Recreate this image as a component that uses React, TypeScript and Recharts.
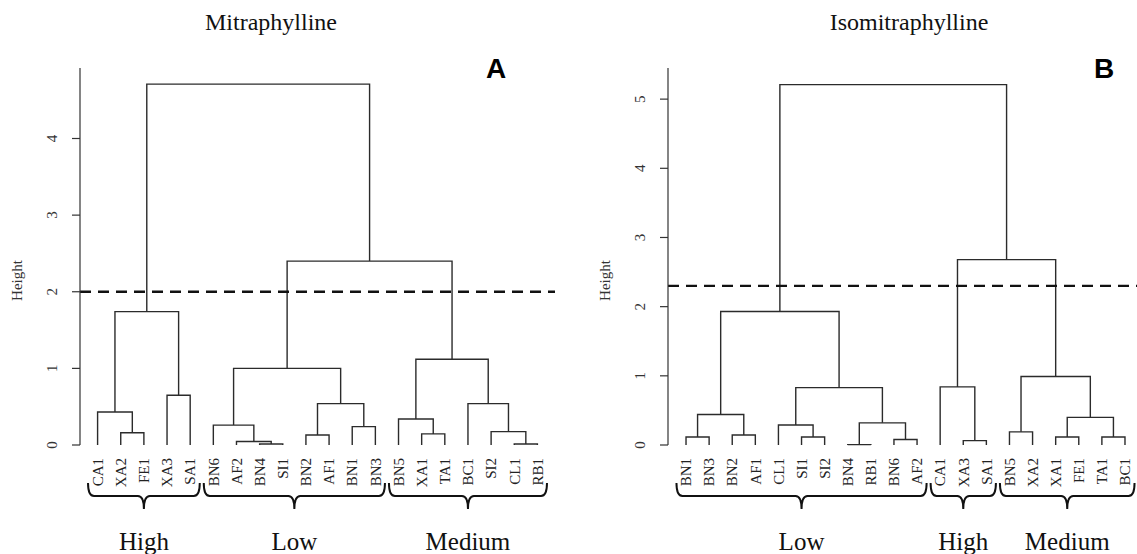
import { LineChart, Line, XAxis, YAxis, ReferenceLine, ReferenceArea } from "recharts";

const FONT = '"Liberation Serif", "Times New Roman", serif';
const INK = "#2b2b2b";

// ---- Panel A: Mitraphylline ----
const leavesA = ["CA1", "XA2", "FE1", "XA3", "SA1", "BN6", "AF2", "BN4", "SI1", "BN2", "AF1", "BN1", "BN3", "BN5", "XA1", "TA1", "BC1", "SI2", "CL1", "RB1"];
// [left, right, height]; strings are leaves, numbers point at an earlier merge row
const mergesA: [string | number, string | number, number][] = [
  ["BN4", "SI1", 0.013],
  ["CL1", "RB1", 0.013],
  ["AF2", 0, 0.045],
  ["BN2", "AF1", 0.13],
  ["XA1", "TA1", 0.145],
  ["XA2", "FE1", 0.16],
  ["SI2", 1, 0.175],
  ["BN1", "BN3", 0.24],
  ["BN6", 2, 0.26],
  ["BN5", 4, 0.34],
  ["CA1", 5, 0.43],
  [3, 7, 0.54],
  ["BC1", 6, 0.54],
  ["XA3", "SA1", 0.65],
  [8, 11, 1.0],
  [9, 12, 1.12],
  [10, 13, 1.74],
  [14, 15, 2.4],
  [16, 17, 4.71],
];
const groupsA = [
  { name: "High", from: 1, to: 5 },
  { name: "Low", from: 6, to: 13 },
  { name: "Medium", from: 14, to: 20 },
];
const yTicksA = [0, 1, 2, 3, 4];
const cutA = 2.0;

// ---- Panel B: Isomitraphylline ----
const leavesB = ["BN1", "BN3", "BN2", "AF1", "CL1", "SI1", "SI2", "BN4", "RB1", "BN6", "AF2", "CA1", "XA3", "SA1", "BN5", "XA2", "XA1", "FE1", "TA1", "BC1"];
const mergesB: [string | number, string | number, number][] = [
  ["BN4", "RB1", 0.005],
  ["XA3", "SA1", 0.063],
  ["BN6", "AF2", 0.08],
  ["BN1", "BN3", 0.116],
  ["SI1", "SI2", 0.116],
  ["XA1", "FE1", 0.116],
  ["TA1", "BC1", 0.116],
  ["BN2", "AF1", 0.145],
  ["BN5", "XA2", 0.19],
  ["CL1", 4, 0.29],
  [0, 2, 0.32],
  [5, 6, 0.4],
  [3, 7, 0.44],
  [9, 10, 0.83],
  ["CA1", 1, 0.84],
  [8, 11, 0.99],
  [12, 13, 1.93],
  [14, 15, 2.68],
  [16, 17, 5.21],
];
const groupsB = [
  { name: "Low", from: 1, to: 11 },
  { name: "High", from: 12, to: 14 },
  { name: "Medium", from: 15, to: 20 },
];
const yTicksB = [0, 1, 2, 3, 4, 5];
const cutB = 2.3;

type Pt = { x: number; y: number };

function buildSegments(leaves: string[], merges: [string | number, string | number, number][]) {
  const mx: number[] = [];
  const segs: Pt[][] = [];
  const pos = (n: string | number) =>
    typeof n === "string" ? { x: leaves.indexOf(n) + 1, h: 0 } : { x: mx[n], h: merges[n][2] };
  merges.forEach(([a, b, h], i) => {
    const pa = pos(a);
    const pb = pos(b);
    mx[i] = (pa.x + pb.x) / 2;
    segs.push([
      { x: pa.x, y: pa.h },
      { x: pa.x, y: h },
      { x: pb.x, y: h },
      { x: pb.x, y: pb.h },
    ]);
  });
  return segs;
}

function Brace(props: any) {
  const { x, y, width, height, name } = props;
  const yb = y + height;
  const x0 = x + 2;
  const x1 = x + width - 2;
  const mid = (x0 + x1) / 2;
  const top = yb + 38;
  const line = yb + 51;
  const tip = yb + 64;
  const d = `M ${x0} ${top} Q ${x0} ${line} ${x0 + 6} ${line} L ${mid - 6} ${line} Q ${mid} ${line} ${mid} ${tip} Q ${mid} ${line} ${mid + 6} ${line} L ${x1 - 6} ${line} Q ${x1} ${line} ${x1} ${top}`;
  return (
    <g>
      <path d={d} fill="none" stroke="#111" strokeWidth={2} />
      <text x={mid} y={yb + 105} textAnchor="middle" fontSize={25} fontFamily={FONT} fill="#111">
        {name}
      </text>
    </g>
  );
}

function Dendro(props: {
  leaves: string[];
  merges: [string | number, string | number, number][];
  groups: { name: string; from: number; to: number }[];
  yTicks: number[];
  yMax: number;
  xDomain: [number, number];
  cut: number;
  width: number;
  left: number;
  right: number;
}) {
  const { leaves, merges, groups, yTicks, yMax, xDomain, cut, width, left, right } = props;
  const segs = buildSegments(leaves, merges);
  const leafTicks = leaves.map((_, i) => i + 1);

  const LeafTick = (p: any) => {
    const { x, y, payload } = p;
    return (
      <text x={x} y={y} transform={`rotate(-90 ${x} ${y})`} textAnchor="end" dy="0.35em" fontSize={15} fontFamily={FONT} fill="#222">
        {leaves[payload.value - 1]}
      </text>
    );
  };
  const NumTick = (p: any) => {
    const { x, y, payload } = p;
    return (
      <text x={x} y={y} transform={`rotate(-90 ${x} ${y})`} textAnchor="middle" fontSize={15} fontFamily={FONT} fill="#333">
        {payload.value}
      </text>
    );
  };

  return (
    <LineChart width={width} height={554} margin={{ top: 68, right, bottom: 79, left: left - 40 }}>
      <XAxis
        type="number"
        dataKey="x"
        domain={xDomain}
        ticks={leafTicks}
        interval={0}
        axisLine={false}
        tickLine={false}
        tickSize={4}
        tickMargin={9}
        height={30}
        tick={<LeafTick />}
      />
      <YAxis
        type="number"
        domain={[0, yMax]}
        ticks={yTicks}
        interval={0}
        width={40}
        axisLine={{ stroke: "#333", strokeWidth: 1.2 }}
        tickLine={{ stroke: "#333", strokeWidth: 1.2 }}
        tickSize={8}
        tickMargin={15}
        tick={<NumTick />}
        label={{
          content: (lp: any) => {
            const vb = lp.viewBox || { x: 0, y: 0, width: 0, height: 0 };
            const cx = vb.x - 18;
            const cy = vb.y + vb.height / 2 + 24;
            return (
              <text x={cx} y={cy} transform={`rotate(-90 ${cx} ${cy})`} textAnchor="middle" fontSize={15} fontFamily={FONT} fill="#333">
                Height
              </text>
            );
          },
        }}
      />
      {segs.map((s, i) => (
        <Line
          key={i}
          data={s}
          dataKey="y"
          type="linear"
          stroke={INK}
          strokeWidth={1.4}
          dot={false}
          activeDot={false}
          isAnimationActive={false}
        />
      ))}
      <ReferenceLine y={cut} stroke="#111" strokeWidth={2.3} strokeDasharray="11 7" />
      {groups.map((g) => (
        <ReferenceArea
          key={g.name}
          x1={g.from - 0.5}
          x2={g.to + 0.5}
          y1={0}
          y2={0.001}
          ifOverflow="visible"
          shape={(sp: any) => <Brace {...sp} name={g.name} />}
        />
      ))}
    </LineChart>
  );
}

export default function App() {
  return (
    <div style={{ position: "absolute", left: 0, top: 0, width: 1137, height: 554, background: "#fff", overflow: "hidden" }}>
      <div style={{ position: "absolute", left: 0, top: 0 }}>
        <Dendro
          leaves={leavesA}
          merges={mergesA}
          groups={groupsA}
          yTicks={yTicksA}
          yMax={4.92}
          xDomain={[0.24, 20.76]}
          cut={cutA}
          width={570}
          left={80}
          right={15}
        />
      </div>
      <div style={{ position: "absolute", left: 570, top: 0 }}>
        <Dendro
          leaves={leavesB}
          merges={mergesB}
          groups={groupsB}
          yTicks={yTicksB}
          yMax={5.45}
          xDomain={[0.22, 20.52]}
          cut={cutB}
          width={567}
          left={98}
          right={0}
        />
      </div>
      <div style={{ position: "absolute", left: 151, width: 240, top: 9, textAlign: "center", fontFamily: FONT, fontSize: 24, color: "#111" }}>
        Mitraphylline
      </div>
      <div style={{ position: "absolute", left: 789, width: 240, top: 9, textAlign: "center", fontFamily: FONT, fontSize: 24, color: "#111" }}>
        Isomitraphylline
      </div>
      <div style={{ position: "absolute", left: 486, top: 53, fontFamily: '"Liberation Sans", Arial, sans-serif', fontWeight: "bold", fontSize: 28, color: "#000" }}>
        A
      </div>
      <div style={{ position: "absolute", left: 1094, top: 53, fontFamily: '"Liberation Sans", Arial, sans-serif', fontWeight: "bold", fontSize: 28, color: "#000" }}>
        B
      </div>
    </div>
  );
}
